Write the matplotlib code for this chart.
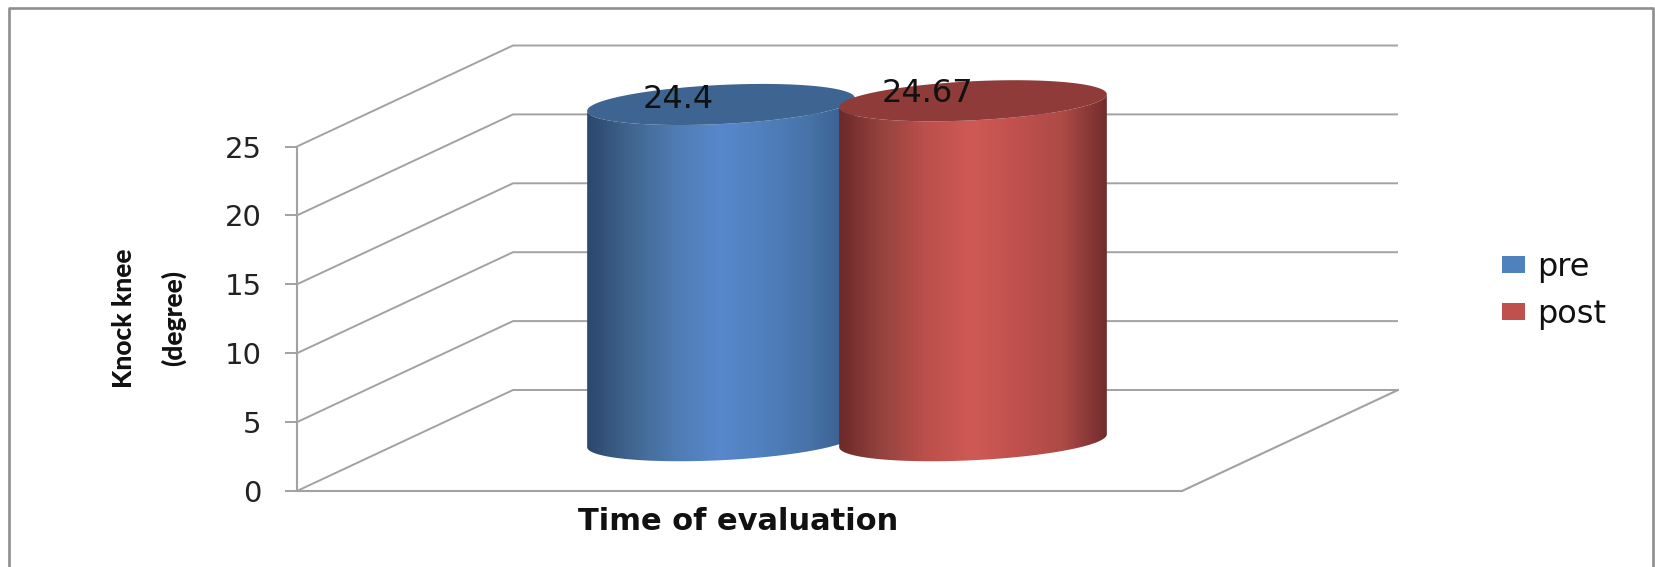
import numpy as np
import matplotlib
matplotlib.use("Agg")
import matplotlib.pyplot as plt
from matplotlib.colors import LinearSegmentedColormap
from matplotlib.lines import Line2D
from matplotlib.patches import Patch, PathPatch, Polygon
from matplotlib.path import Path

# Chart data
series = ["pre", "post"]
values = [24.4, 24.67]
value_labels = ["24.4", "24.67"]
y_ticks = [0, 5, 10, 15, 20, 25]
y_title = "Knock knee\n(degree)"
x_title = "Time of evaluation"

# Colours
fills = ["#4f81bd", "#c0504d"]
top_faces = ["#3e6491", "#8e3b39"]
side_stops = [
    ["#2a466b", "#41658f", "#4f7cb4", "#5888cc", "#4f7fbc", "#4672a6", "#37598a"],
    ["#692827", "#96433f", "#bd504c", "#cf5a55", "#c0504d", "#ad4a47", "#6e2b2b"],
]
GRID = "#a2a2a2"
FRAME = "#8e8e8e"

W, H = 1655, 567
Y0_PX, Y25_PX = 491.0, 146.5
PX_PER_UNIT = (Y0_PX - Y25_PX) / 25.0

fig = plt.figure(figsize=(W / 100, H / 100), dpi=100, facecolor="white")
ax = fig.add_axes([0, 0, 1, 1], facecolor="none")
ax.set_xlim(0, W)
ax.set_ylim(-(H - Y0_PX) / PX_PER_UNIT, Y0_PX / PX_PER_UNIT)

# Pseudo-3D box geometry: x in pixels along the floor, depth shift in value units
wall_x, depth_x, right_x = 297, 216, 1182
depth_y = 101 / PX_PER_UNIT

# Gridlines run up the side wall, then along the back wall
for v in y_ticks:
    xs = [wall_x, wall_x + depth_x, right_x + depth_x]
    ys = [v, v + depth_y, v + depth_y]
    ax.plot(xs, ys, color=GRID, lw=1.4, zorder=1, solid_capstyle="butt")
ax.plot([wall_x, right_x, right_x + depth_x], [0, 0, depth_y],
        color=GRID, lw=1.5, zorder=1)

# Value axis on the front edge of the side wall
for side in ("top", "right", "bottom"):
    ax.spines[side].set_visible(False)
ax.spines["left"].set_position(("data", wall_x))
ax.spines["left"].set_bounds(0, 25)
ax.spines["left"].set_color(GRID)
ax.spines["left"].set_linewidth(1.5)
ax.set_xticks([])
ax.set_yticks(y_ticks)
ax.tick_params(axis="y", direction="out", length=8.6, width=1.4, color=GRID,
               labelsize=21, labelcolor="#222222", pad=17)


def ring(cx, cy, a, b, tilt_deg, t):
    """Points of a tilted ellipse; sizes in pixels, cy in value units."""
    th = np.radians(tilt_deg)
    dx = a * np.cos(t) * np.cos(th) - b * np.sin(t) * np.sin(th)
    dy = a * np.cos(t) * np.sin(th) + b * np.sin(t) * np.cos(th)
    return cx + dx, cy + dy / PX_PER_UNIT


# Cylinders: height comes from the value, both stand on the same base level
centers = [721.0, 973.0]
semi_major = 134.0
semi_minor = 19.5
tilt = 2.8
base_level = 3.65

for i, value in enumerate(values):
    cx = centers[i]
    top = base_level + value
    t_full = np.linspace(0, 2 * np.pi, 200)
    t_low = np.linspace(np.pi, 2 * np.pi, 100)

    bx, by = ring(cx, base_level, semi_major, semi_minor, tilt, t_low)
    tx, ty = ring(cx, top, semi_major, semi_minor, tilt, t_low[::-1])
    outline = np.column_stack([np.r_[bx, tx], np.r_[by, ty]])
    clip = Polygon(outline, closed=True, transform=ax.transData, fc="none", ec="none")
    ax.add_patch(clip)

    cmap = LinearSegmentedColormap.from_list(series[i], side_stops[i])
    ramp = np.linspace(0, 1, 256)[None, :]
    im = ax.imshow(ramp, cmap=cmap, aspect="auto", zorder=2 + i,
                   extent=[cx - semi_major - 2, cx + semi_major + 2,
                           base_level - 4, top + 4])
    im.set_clip_path(clip)

    ex, ey = ring(cx, top, semi_major, semi_minor, tilt, t_full)
    ax.add_patch(PathPatch(Path(np.column_stack([ex, ey])), fc=top_faces[i],
                           ec="none", zorder=2 + i + 0.5))

ax.set_xlim(0, W)
ax.set_ylim(-(H - Y0_PX) / PX_PER_UNIT, Y0_PX / PX_PER_UNIT)

# Value labels sit on the top faces
label_x = [678, 927]
label_shift = [0.35, 0.5]
for i, value in enumerate(values):
    ax.text(label_x[i], base_level + value + label_shift[i], value_labels[i],
            fontsize=23, color="#111111", ha="center", va="center", zorder=6)

# Axis titles
ax.text(149, (Y0_PX - 318) / PX_PER_UNIT, y_title, rotation=90, ha="center", va="center",
        multialignment="center", family=["Lato", "DejaVu Sans"], fontweight=900,
        fontsize=19, color="#111111", linespacing=2.2)
ax.text(738, (Y0_PX - 521) / PX_PER_UNIT, x_title, ha="center", va="center",
        fontweight="bold", fontsize=22, color="#111111")

# Legend
handles = [Patch(facecolor=c, edgecolor="none", label=s) for c, s in zip(fills, series)]
ax.legend(handles=handles, loc="center left", frameon=False,
          bbox_to_anchor=(1502 / W, 1 - 291 / H), bbox_transform=fig.transFigure,
          fontsize=23, handlelength=0.72, handleheight=0.47, handletextpad=0.37,
          labelspacing=0.5, borderpad=0, borderaxespad=0, labelcolor="#111111")

# Chart-area border: open at the bottom
fx = [9 / W, 9 / W, 1653 / W, 1653 / W]
fy = [0, 1 - 8 / H, 1 - 8 / H, 0]
fig.add_artist(Line2D(fx, fy, transform=fig.transFigure, color=FRAME, lw=1.9))

fig.savefig("out.png", dpi=100)
